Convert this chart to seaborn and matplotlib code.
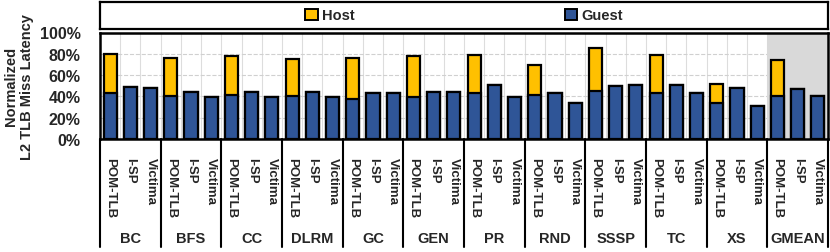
import numpy as np
import pandas as pd
import matplotlib
matplotlib.use("Agg")
import matplotlib.pyplot as plt
from matplotlib.patches import Patch
import seaborn as sns

# ----------------------
# data (percent)
# ----------------------
groups = ["BC", "BFS", "CC", "DLRM", "GC", "GEN", "PR", "RND", "SSSP", "TC", "XS", "GMEAN"]
configs = ["POM-TLB", "I-SP", "Victima"]

guest_pom = [43.5, 40, 41, 40, 38, 39, 43.5, 41.5, 45, 43, 34, 40.5]
host_pom = [36.5, 36, 36.5, 35.5, 38, 38.5, 35.5, 28, 40, 36, 18, 34]
guest_isp = [49, 44, 44.5, 44.5, 43.5, 44.5, 51, 43.5, 50, 50.5, 47.5, 47]
guest_victima = [48, 39, 39, 39, 43, 44, 39, 33.5, 51, 43.5, 31, 40]

host_color = "#FFC000"
guest_color = "#2F5597"

rows = []
for i, g in enumerate(groups):
    for c, gv, hv in zip(configs,
                         [guest_pom[i], guest_isp[i], guest_victima[i]],
                         [host_pom[i], 0, 0]):
        rows.append({"slot": f"{g}|{c}", "group": g, "config": c,
                     "guest": gv, "total": gv + hv})
df = pd.DataFrame(rows)
n = len(df)

# ----------------------
# figure
# ----------------------
sns.set_style("white")
plt.rcParams["font.family"] = ["Liberation Sans", "DejaVu Sans"]
plt.rcParams["font.weight"] = "bold"

fig = plt.figure(figsize=(8.3, 2.53), dpi=100)
ax = fig.add_axes([100 / 830, 113 / 253, 728 / 830, 106.5 / 253])
lax = fig.add_axes([100 / 830, 223 / 253, 728 / 830, 27 / 253])

# gmean shading
ax.axvspan(n - 3.5, n - 0.5, color="#D9D9D9", zorder=1, lw=0)

sns.barplot(data=df, x="slot", y="total", color=host_color, edgecolor="black",
            linewidth=1.6, width=0.65, saturation=1, ax=ax, zorder=3)
sns.barplot(data=df, x="slot", y="guest", color=guest_color, edgecolor="black",
            linewidth=1.6, width=0.65, saturation=1, ax=ax, zorder=4)

ax.set_xlim(-0.5, n - 0.5)
ax.set_ylim(0, 100)
ax.set_yticks([0, 20, 40, 60, 80, 100])
ax.set_yticklabels([f"{v}%" for v in [0, 20, 40, 60, 80, 100]], fontsize=11.5, weight="bold")
ax.tick_params(axis="y", length=0, pad=14)

ax.set_xticks(range(n))
ax.set_xticklabels(df["config"], rotation=-90, fontsize=9.5, va="top", ha="center",
                   weight="bold")
ax.tick_params(axis="x", length=0, pad=13)
ax.set_xlabel("")
ax.set_ylabel("Normalized\nL2 TLB Miss Latency", fontsize=10.5, labelpad=4, weight="bold")

# grid
ax.set_xticks(np.arange(0.5, n - 1, 1), minor=True)
ax.tick_params(axis="x", which="minor", length=0)
ax.grid(which="minor", axis="x", color="#DDDDDD", lw=0.8, zorder=0)
ax.grid(which="major", axis="y", color="#D0D0D0", lw=0.8, ls="--", zorder=0)
ax.set_axisbelow(True)

for s in ax.spines.values():
    s.set_color("black")
    s.set_linewidth(1.8)

# group labels and separators below
trans = ax.get_xaxis_transform()
for k, g in enumerate(groups):
    ax.text(3 * k + 1, -0.93, g, transform=trans, ha="center", va="center",
            fontsize=10.5, weight="bold")
for k in range(len(groups) + 1):
    ax.plot([3 * k - 0.5, 3 * k - 0.5], [0, -1.015], transform=trans,
            color="black", lw=1.5, clip_on=False)

# legend box
lax.set_xticks([])
lax.set_yticks([])
for s in lax.spines.values():
    s.set_color("black")
    s.set_linewidth(1.6)
handles = [Patch(facecolor=host_color, edgecolor="black", lw=1.4, label="Host"),
           Patch(facecolor=guest_color, edgecolor="black", lw=1.4, label="Guest")]
lax.legend(handles=handles, loc="center", ncol=2, frameon=False,
           prop={"size": 10.5, "weight": "bold"},
           handlelength=0.85, handleheight=0.85, handletextpad=0.3, columnspacing=14.4)

fig.savefig("out.png", dpi=100)
